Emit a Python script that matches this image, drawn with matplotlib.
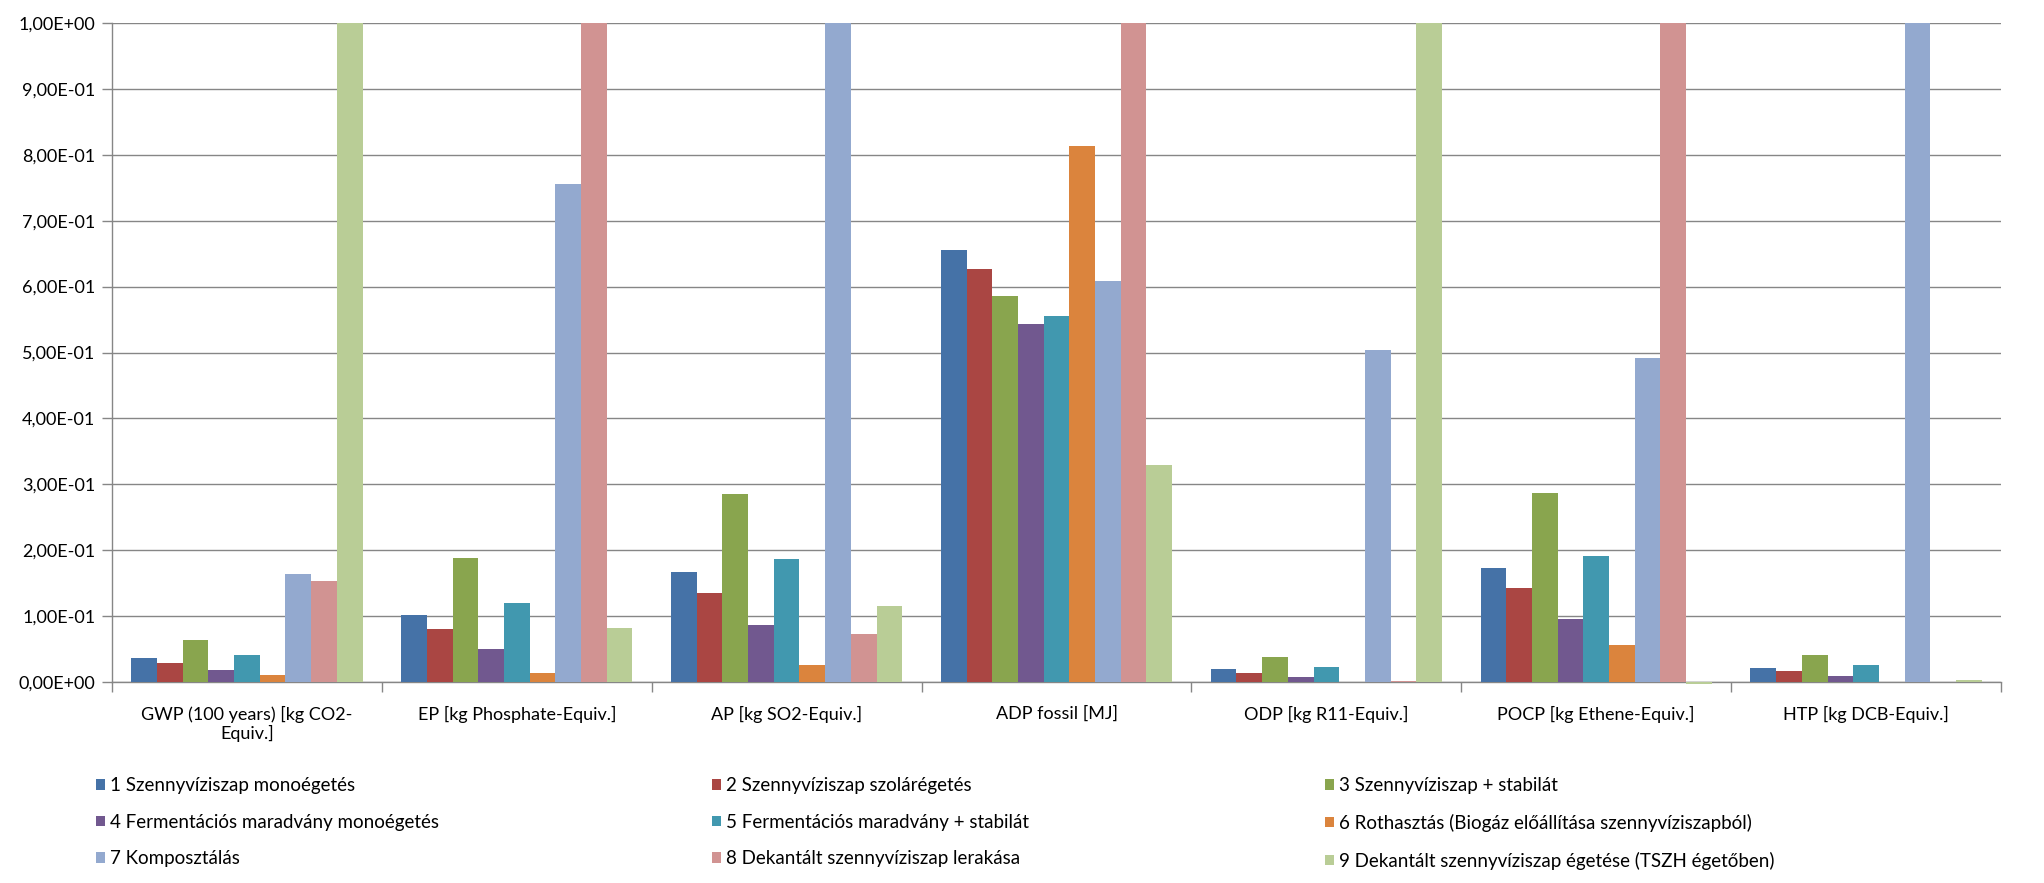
import matplotlib
matplotlib.use("Agg")
import matplotlib.pyplot as plt
from matplotlib.ticker import FuncFormatter, FixedLocator
import numpy as np

plt.rcParams['font.family'] = ['Lato', 'DejaVu Sans']

categories = ["GWP (100 years) [kg CO2-\nEquiv.]", "EP [kg Phosphate-Equiv.]",
              "AP [kg SO2-Equiv.]", "ADP fossil [MJ]", "ODP [kg R11-Equiv.]",
              "POCP [kg Ethene-Equiv.]", "HTP [kg DCB-Equiv.]"]

series_names = ["1 Szennyvíziszap monoégetés",
                "2 Szennyvíziszap szolárégetés",
                "3 Szennyvíziszap + stabilát",
                "4 Fermentációs maradvány monoégetés",
                "5 Fermentációs maradvány + stabilát",
                "6 Rothasztás (Biogáz előállítása szennyvíziszapból)",
                "7 Komposztálás",
                "8 Dekantált szennyvíziszap lerakása",
                "9 Dekantált szennyvíziszap égetése (TSZH égetőben)"]

# values per series, one entry per category
s1 = [0.036, 0.102, 0.167, 0.655, 0.020, 0.173, 0.021]
s2 = [0.029, 0.080, 0.135, 0.627, 0.014, 0.143, 0.017]
s3 = [0.064, 0.188, 0.285, 0.586, 0.038, 0.287, 0.041]
s4 = [0.018, 0.050, 0.086, 0.543, 0.008, 0.096, 0.009]
s5 = [0.041, 0.120, 0.187, 0.555, 0.023, 0.191, 0.026]
s6 = [0.011, 0.014, 0.026, 0.813, 0.000, 0.056, 0.000]
s7 = [0.164, 0.756, 1.000, 0.608, 0.504, 0.492, 1.000]
s8 = [0.153, 1.000, 0.073, 1.000, 0.002, 1.000, 0.000]
s9 = [1.000, 0.082, 0.115, 0.329, 1.000, -0.003, 0.003]
series = [s1, s2, s3, s4, s5, s6, s7, s8, s9]

colors = ["#4572A7", "#AA4643", "#89A54E", "#71588F", "#4198AF",
          "#DB843D", "#93A9CF", "#D19392", "#B9CD96"]

W, H = 2044, 883
fig = plt.figure(figsize=(W / 100, H / 100), dpi=100)
ax = fig.add_axes([112 / W, 1 - 682 / H, (2001 - 112) / W, (682 - 23) / H])

x = np.arange(len(categories))
bw = 1 / 10.5
handles = []
for i, (vals, c, name) in enumerate(zip(series, colors, series_names)):
    b = ax.bar(x + (i - 4) * bw, vals, width=bw, color=c, label=name,
               linewidth=0, zorder=3, clip_on=False)
    handles.append(b)

grid_c = "#868686"
ax.set_ylim(0, 1.0)
ax.set_xlim(-0.5, len(categories) - 0.5)
ax.set_yticks(np.arange(0, 1.01, 0.1))
ax.yaxis.set_major_formatter(FuncFormatter(lambda v, p: f"{v:.2E}".replace(".", ",")))
ax.yaxis.grid(True, color=grid_c, linewidth=1.0, zorder=0)
ax.set_axisbelow(True)

ax.xaxis.set_major_locator(FixedLocator(np.arange(-0.5, len(categories), 1)))
ax.xaxis.set_major_formatter(FuncFormatter(lambda v, p: ""))
ax.set_xticks(x, minor=True)
ax.set_xticklabels(categories, minor=True, fontsize=13, color="#000000", linespacing=1.2)
ax.tick_params(axis="x", which="major", direction="out", length=7, width=1, color=grid_c)
ax.tick_params(axis="x", which="minor", length=0, pad=17)
ax.tick_params(axis="y", direction="out", length=7, width=1, color=grid_c, labelsize=13, pad=5)

for s in ["top", "right"]:
    ax.spines[s].set_visible(False)
for s in ["left", "bottom"]:
    ax.spines[s].set_color(grid_c)
    ax.spines[s].set_linewidth(1.0)

# legend: three columns, row-wise order
col_x = [96, 712, 1325]
for k in range(3):
    idx = [k, k + 3, k + 6]
    leg = fig.legend([handles[j] for j in idx], [series_names[j] for j in idx],
                     loc="upper left", bbox_to_anchor=(col_x[k] / W, 1 - 777 / H),
                     frameon=False, fontsize=13.5, handlelength=0.5, handleheight=0.5,
                     handletextpad=0.25, labelspacing=1.05, borderaxespad=0, borderpad=0)

fig.savefig("out.png", dpi=100)
